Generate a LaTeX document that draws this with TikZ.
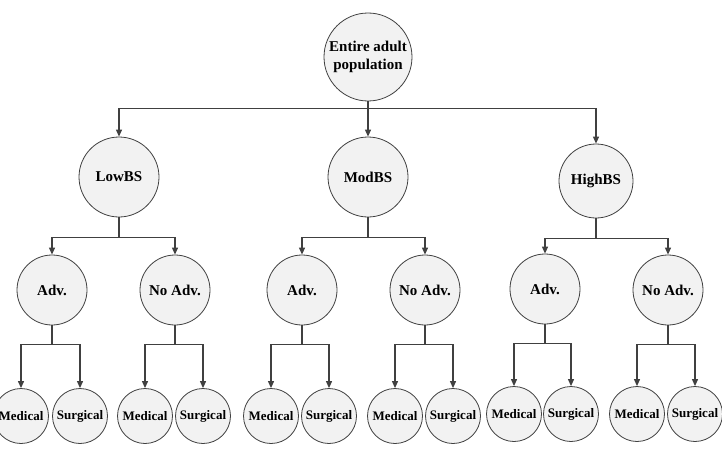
\documentclass[tikz,border=0pt]{standalone}
\usepackage{fontspec}
\setmainfont{Liberation Serif}
\usetikzlibrary{arrows.meta}
\definecolor{edgec}{HTML}{404040}
\definecolor{fillc}{HTML}{F2F2F2}
\tikzset{
  circ/.style={circle, draw=edgec, line width=0.8pt, fill=fillc, inner sep=0pt, align=center, font=\bfseries\fontsize{15}{18}\selectfont},
  big/.style={circ, minimum size=88pt},
  mid/.style={circ, minimum size=80pt},
  lvl/.style={circ, minimum size=70pt},
  leaf/.style={circ, minimum size=55pt, font=\bfseries\fontsize{13}{15}\selectfont},
  arr/.style={draw=edgec, line width=1.1pt, -{Triangle[length=7pt,width=6pt]}}
}
\begin{document}
\begin{tikzpicture}[x=1pt,y=1pt]
\useasboundingbox (0,0) rectangle (722,-452);
\node[big] (root) at (368,-57) {Entire adult\\population};
\node[mid] (low) at (119,-177) {LowBS};
\node[mid] (mod) at (368,-177) {ModBS};
\node[circ, minimum size=74pt] (high) at (596,-181) {HighBS};
\node[lvl] (la) at (52,-290) {Adv.};
\node[lvl] (ln) at (175,-290) {No Adv.};
\node[lvl] (ma) at (302,-290) {Adv.};
\node[lvl] (mn) at (425,-290) {No Adv.};
\node[lvl] (ha) at (545,-289) {Adv.};
\node[lvl] (hn) at (668,-290) {No Adv.};
\node[leaf] (lam) at (21,-416) {Medical};
\node[leaf] (las) at (80,-416) {Surgical};
\node[leaf] (lnm) at (145,-416) {Medical};
\node[leaf] (lns) at (203,-416) {Surgical};
\node[leaf] (mam) at (271,-416) {Medical};
\node[leaf] (mas) at (329,-416) {Surgical};
\node[leaf] (mnm) at (395,-416) {Medical};
\node[leaf] (mns) at (453,-416) {Surgical};
\node[leaf] (ham) at (514,-414) {Medical};
\node[leaf] (has) at (571,-414) {Surgical};
\node[leaf] (hnm) at (637,-414) {Medical};
\node[leaf] (hns) at (695,-414) {Surgical};
\foreach \c in {low,mod,high}
  \draw[arr] (root.south) -- ++(0,-7) -| (\c.north);
\foreach \p/\a/\b in {low/la/ln, mod/ma/mn, high/ha/hn}{
  \draw[arr] (\p.south) -- ++(0,-20) -| (\a.north);
  \draw[arr] (\p.south) -- ++(0,-20) -| (\b.north);
}
\foreach \p/\a/\b in {la/lam/las, ln/lnm/lns, ma/mam/mas, mn/mnm/mns, ha/ham/has, hn/hnm/hns}{
  \draw[arr] (\p.south) -- ++(0,-19) -| (\a.north);
  \draw[arr] (\p.south) -- ++(0,-19) -| (\b.north);
}
\end{tikzpicture}
\end{document}
